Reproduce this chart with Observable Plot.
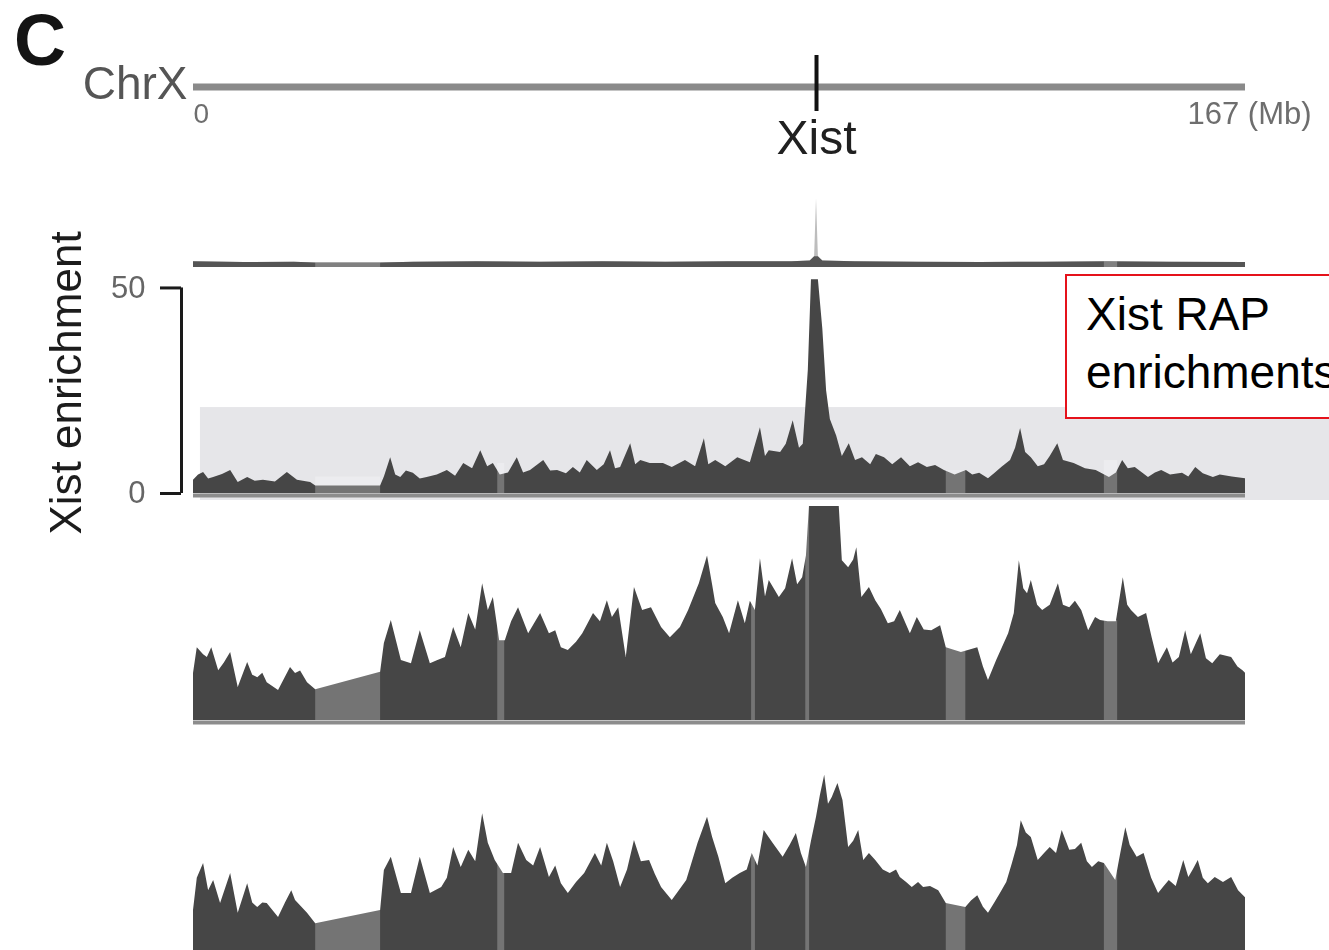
<!DOCTYPE html>
<html>
<head>
<meta charset="utf-8">
<script src="https://cdn.jsdelivr.net/npm/d3@7"></script>
<script src="https://cdn.jsdelivr.net/npm/@observablehq/plot@0.6"></script>
<style>
  html, body { margin: 0; padding: 0; background: #fff; overflow: hidden; }
  #fig { position: relative; width: 1329px; height: 950px; overflow: hidden;
         font-family: "Liberation Sans", Arial, Helvetica, sans-serif; background: #fff; }
  .layer { position: absolute; left: 0; }
  .layer svg { display: block; background: transparent; max-width: none; }
  #panel { position: absolute; left: 14px; top: 4px; font-size: 72px; line-height: 72px;
           font-weight: bold; color: #141414; }
  #ylabel { position: absolute; left: 66px; top: 383px; font-size: 44px; line-height: 44px;
            color: #1c1c1c; white-space: nowrap; transform: translate(-50%, -50%) rotate(-90deg); }
  #note { position: absolute; left: 1065px; top: 274px; width: 400px; height: 132px;
          border: 2px solid #e5121b; background: #fff; box-sizing: content-box;
          padding: 9px 0 0 19px; font-size: 46px; line-height: 58px; color: #000;
          white-space: nowrap; }
</style>
</head>
<body>
<div id="fig"></div>
<script>
// ---------------- data ----------------
const chromosome = [{name: "ChrX", start: 0, end: 167}];
const chromTicks = [{mb: 0, label: "0"}, {mb: 167, label: "167 (Mb)"}];
const genes = [{name: "Xist", mb: 98.9}];
const enrichTicks = [0, 50];
const yLabel = "Xist enrichment";
const noteText = ["Xist RAP", "enrichments"];

// unmappable / low-coverage stretches (Mb)
const gaps = [
  {start: 19.4, end: 29.7},
  {start: 48.3, end: 49.4},
  {start: 119.5, end: 122.6},
  {start: 144.6, end: 146.7}
];
const thinGaps = [
  {start: 88.6, end: 89.2},
  {start: 97.2, end: 97.8}
];
// light grey highlight behind the RAP track
const highlight = [{start: 1.1, end: 181, lo: -1.7, hi: 20.9}];

// overview track (whole chromosome, compressed)
const overview = [[0,1.4],[8,1.2],[16,1.3],[19.4,1.1],[29.7,1.1],[35,1.3],[45,1.4],[55,1.3],[65,1.4],[75,1.3],[85,1.4],[95,1.4],[97.9,1.6],[98.6,2.6],[98.9,16.7],[99.2,2.6],[99.9,1.6],[105,1.4],[115,1.3],[125,1.2],[135,1.3],[145,1.4],[155,1.3],[167,1.2]];

// Xist RAP enrichment (Mb, enrichment)
const rapEnrichment = [[0.0,3.2],[0.8,4.5],[1.6,5.1],[2.4,3.5],[3.2,3.9],[4.6,4.6],[5.9,5.6],[7.1,2.7],[8.6,3.9],[9.8,3.0],[11.1,3.2],[13.0,2.8],[14.9,5.1],[16.5,3.2],[18.6,2.7],[19.4,1.8],[29.7,1.8],[30.3,4.0],[31.3,8.7],[32.1,4.5],[32.9,3.9],[33.8,5.5],[34.9,4.9],[36.0,3.5],[37.1,3.9],[38.7,4.5],[40.3,5.6],[41.6,4.2],[42.9,7.3],[44.3,6.0],[45.6,10.4],[46.7,6.5],[47.6,7.3],[48.7,4.5],[50.0,5.0],[51.4,8.7],[52.4,5.0],[53.5,5.6],[55.6,8.0],[56.7,5.5],[57.8,5.6],[59.2,4.8],[60.3,6.3],[61.4,5.0],[62.5,8.0],[64.1,5.6],[65.2,7.0],[66.2,10.4],[67.0,6.0],[67.8,6.3],[69.4,12.1],[70.2,7.0],[71.0,8.0],[72.5,7.3],[74.6,7.3],[76.0,6.3],[78.1,8.0],[79.7,6.5],[81.1,13.3],[81.8,7.0],[82.9,8.0],[84.5,6.5],[86.4,8.7],[88.4,7.5],[90.0,16.0],[90.8,9.0],[91.4,10.4],[93.2,10.0],[94.1,12.0],[95.2,17.7],[96.2,11.0],[96.8,12.0],[97.6,30.0],[98.1,52.0],[99.2,52.0],[99.9,40.0],[100.5,25.0],[101.1,18.0],[102.1,14.0],[103.0,9.0],[104.1,12.1],[105.1,8.0],[106.2,8.7],[107.5,7.0],[108.4,9.5],[109.7,8.7],[111.0,7.0],[112.4,8.7],[113.8,6.5],[115.1,7.5],[116.5,6.3],[117.8,6.8],[119.2,5.6],[120.9,4.5],[122.7,5.6],[123.7,4.5],[124.8,4.9],[126.2,3.6],[127.3,5.0],[128.3,6.3],[129.7,8.0],[130.5,11.0],[131.3,15.8],[132.1,10.0],[133.0,8.7],[134.1,6.5],[135.1,7.0],[136.0,9.0],[137.2,12.1],[138.1,8.0],[139.8,7.3],[141.6,6.0],[143.3,5.6],[145.4,3.9],[146.5,5.0],[147.5,8.0],[148.4,6.0],[149.5,6.3],[151.6,3.9],[152.7,5.0],[153.7,5.6],[155.1,4.5],[157.0,4.9],[158.0,4.0],[159.1,6.3],[160.3,4.8],[161.9,3.9],[163.0,4.5],[164.9,4.0],[167.0,3.6]];

// second sample (clipped at the top of its track)
const sampleB = [[0.0,11.4],[0.6,17.7],[1.6,16.0],[2.2,15.3],[2.9,17.7],[4.0,12.1],[4.9,14.0],[5.9,16.5],[7.1,8.0],[8.6,14.1],[9.4,11.0],[10.2,10.4],[11.0,11.5],[11.7,9.2],[13.5,7.3],[15.4,12.9],[16.2,11.4],[17.0,12.0],[18.1,9.2],[19.4,7.5],[29.7,11.7],[30.3,18.7],[31.4,24.3],[33.0,14.6],[34.6,13.8],[36.0,21.8],[37.6,13.8],[38.7,14.5],[40.0,15.3],[41.3,22.6],[42.5,17.7],[43.7,26.0],[44.8,22.0],[45.9,33.2],[46.8,26.7],[47.6,29.9],[48.6,19.4],[49.5,19.4],[50.5,24.0],[51.6,27.4],[53.2,21.1],[55.1,26.0],[56.5,21.1],[57.5,21.8],[58.4,17.7],[59.5,17.0],[60.8,19.0],[61.8,21.1],[63.5,26.0],[64.6,24.0],[65.7,29.1],[66.5,25.0],[67.5,27.4],[68.7,15.3],[70.0,32.3],[71.3,26.7],[72.7,27.4],[74.3,22.6],[75.7,20.1],[77.3,22.6],[78.6,26.7],[80.3,33.2],[81.6,40.0],[82.4,33.0],[82.9,28.4],[84.1,25.0],[85.1,21.1],[86.5,29.1],[87.6,23.5],[88.4,29.0],[89.2,26.7],[90.0,39.3],[90.8,30.0],[91.4,34.0],[93.0,29.9],[94.0,32.0],[95.1,39.3],[95.9,33.0],[96.7,34.7],[97.3,40.0],[97.9,55.0],[102.4,55.0],[103.0,38.8],[104.0,37.1],[104.8,39.0],[105.3,42.0],[106.1,29.9],[107.3,32.3],[108.3,29.1],[109.2,27.0],[110.3,23.5],[111.3,24.0],[112.2,26.7],[113.8,21.1],[114.9,25.0],[116.0,22.0],[117.2,21.8],[118.6,23.0],[119.5,17.7],[121.9,16.5],[123.0,17.0],[124.5,17.7],[125.4,13.0],[126.2,9.7],[127.5,14.6],[129.4,21.1],[130.3,26.0],[131.1,38.8],[131.8,32.0],[132.4,30.8],[133.0,34.0],[134.0,28.0],[134.8,26.7],[136.0,28.0],[137.3,33.2],[138.1,28.0],[139.1,27.4],[140.0,29.0],[141.0,26.7],[142.1,21.8],[143.2,25.0],[144.0,24.3],[145.2,24.0],[146.5,24.0],[147.6,34.7],[148.3,28.0],[148.9,26.7],[150.0,25.0],[151.3,26.0],[152.2,20.0],[153.2,13.8],[154.6,17.7],[155.5,14.0],[156.5,15.3],[157.5,21.8],[158.4,16.0],[159.2,18.7],[159.9,21.1],[160.8,15.0],[161.8,13.8],[163.0,16.0],[164.8,15.3],[165.8,13.0],[166.6,12.1],[167.0,11.5]];

// third sample
const sampleC = [[0.0,10.2],[0.6,18.0],[1.6,21.6],[2.4,15.0],[3.2,17.5],[4.3,11.9],[5.9,19.2],[7.1,9.5],[8.6,16.7],[9.4,12.0],[10.2,10.9],[11.0,12.0],[11.7,11.9],[13.5,8.5],[14.6,12.0],[15.6,15.0],[16.2,12.6],[18.1,9.5],[19.4,7.0],[29.7,10.2],[30.3,19.9],[31.4,23.1],[33.0,14.3],[34.6,14.3],[36.0,23.1],[37.6,14.3],[39.4,15.8],[40.3,18.0],[41.3,25.5],[42.5,20.6],[43.7,24.8],[44.8,22.0],[45.9,33.7],[46.8,26.5],[47.9,22.3],[49.2,19.2],[50.5,19.2],[51.6,26.5],[52.9,22.3],[54.0,21.0],[55.1,25.5],[56.5,18.2],[57.5,21.0],[58.4,16.7],[59.5,14.3],[60.8,17.0],[62.1,19.2],[63.8,24.0],[64.8,21.0],[65.7,26.5],[66.7,22.0],[67.8,15.8],[68.9,20.0],[70.0,27.2],[71.1,22.0],[72.4,22.3],[73.3,19.0],[74.3,15.8],[76.0,12.6],[78.3,17.5],[80.1,26.5],[81.6,32.8],[82.4,28.0],[83.4,23.1],[84.5,16.7],[85.6,18.0],[86.8,19.2],[87.9,20.0],[88.7,24.0],[89.6,21.0],[90.6,29.6],[92.0,26.5],[93.6,23.1],[94.7,26.0],[95.7,28.9],[96.5,24.0],[97.3,20.6],[98.1,27.0],[98.9,32.8],[99.5,38.0],[100.2,43.0],[100.8,36.0],[101.4,37.6],[102.3,41.0],[103.1,36.9],[104.0,25.5],[104.8,27.0],[105.6,29.6],[106.4,22.3],[107.3,24.0],[108.3,22.3],[109.5,20.0],[110.6,19.2],[111.6,20.0],[112.2,18.2],[113.2,17.0],[114.1,15.8],[115.1,17.0],[115.9,15.8],[117.0,16.0],[118.3,15.0],[119.5,11.9],[122.6,10.9],[123.5,12.5],[124.5,13.8],[125.4,11.0],[126.2,9.5],[127.2,12.0],[128.1,14.3],[129.1,17.0],[130.0,21.6],[130.8,26.0],[131.4,32.0],[132.2,29.0],[133.0,27.9],[134.1,22.3],[135.1,24.0],[136.0,25.5],[137.0,24.0],[137.9,29.6],[139.1,24.8],[140.0,25.0],[141.0,26.5],[141.9,22.0],[142.7,20.6],[143.7,22.0],[144.6,21.6],[146.4,17.5],[147.2,24.0],[148.0,30.3],[148.7,26.0],[149.8,23.1],[150.9,24.0],[152.1,18.0],[153.2,14.3],[154.1,16.0],[154.9,17.5],[156.0,16.0],[157.2,22.3],[158.0,18.2],[158.7,20.0],[159.5,22.3],[160.3,18.0],[161.1,16.7],[162.2,18.2],[163.5,17.0],[164.8,18.2],[165.9,15.0],[167.0,13.3]];

// ---------------- drawing ----------------
const FONT = '"Liberation Sans", Arial, Helvetica, sans-serif';
const W = 1329, ML = 193, MR = 84;
const AREA = "#464646";
const fig = document.getElementById("fig");

function addLayer(top, node) {
  const d = document.createElement("div");
  d.className = "layer";
  d.style.top = top + "px";
  d.appendChild(node);
  fig.appendChild(d);
}

function gapMarks(points, list) {
  return Plot.rect(list, {
    x1: "start", x2: "end",
    y1: () => 0,
    y2: g => d3.max(points.filter(p => p[0] >= g.start - 0.8 && p[0] <= g.end + 0.8), p => p[1]) ?? 0,
    fill: "#404040", mixBlendMode: "screen"
  });
}

function track(height, marginTop, marginBottom, yDomain, marks) {
  return Plot.plot({
    width: W, height, marginLeft: ML, marginRight: MR, marginTop, marginBottom,
    x: {domain: [0, 167], axis: null},
    y: {domain: yDomain, axis: null},
    style: {background: "transparent", fontFamily: FONT, overflow: "hidden"},
    marks
  });
}

function baseStrip() {
  return Plot.ruleY(chromosome, {x1: "start", x2: "end", y: () => 0, dy: 2, stroke: "#8c8c8c", strokeWidth: 4});
}

// ideogram
addLayer(0, Plot.plot({
  width: W, height: 170, marginLeft: ML, marginRight: MR, marginTop: 86, marginBottom: 83,
  x: {domain: [0, 167], axis: null},
  y: {domain: [0, 1], axis: null},
  style: {background: "transparent", fontFamily: FONT},
  marks: [
    Plot.ruleY(chromosome, {x1: "start", x2: "end", y: () => 0.5, stroke: "#8a8a8a", strokeWidth: 7}),
    Plot.ruleX(genes, {x: "mb", stroke: "#111", strokeWidth: 4, insetTop: -31, insetBottom: -24}),
    Plot.text(genes, {x: "mb", text: "name", frameAnchor: "bottom", lineAnchor: "bottom", dy: 66, fontSize: 48, fill: "#202020"}),
    Plot.text(chromosome, {x: "start", text: "name", frameAnchor: "bottom", textAnchor: "end", lineAnchor: "bottom", dx: -6, dy: 11, fontSize: 46, fill: "#555"}),
    Plot.text(chromTicks.slice(0, 1), {x: "mb", text: "label", frameAnchor: "bottom", textAnchor: "start", lineAnchor: "top", dy: 16, fontSize: 28, fill: "#6e6e6e"}),
    Plot.text(chromTicks.slice(1), {x: "mb", text: "label", frameAnchor: "bottom", textAnchor: "start", lineAnchor: "top", dx: -58, dy: 14, fontSize: 31, fill: "#6e6e6e"})
  ]
}));

// overview line
addLayer(185, track(85, 0, 3, [0, 19.9], [
  Plot.areaY(overview, {x: d => d[0], y: d => d[1], fill: "#bdbdbd"}),
  Plot.areaY(overview, {x: d => d[0], y: d => Math.min(d[1], 2.6), fill: "#555"}),
  gapMarks(overview, gaps)
]));

// Xist RAP enrichment track with axis
addLayer(271, track(240, 0, 18, [0, 54], [
  Plot.rect(highlight, {x1: "start", x2: "end", y1: "lo", y2: "hi", fill: "#e6e6e9"}),
  Plot.areaY(rapEnrichment, {x: d => d[0], y: d => d[1], fill: AREA}),
  baseStrip(),
  gapMarks(rapEnrichment, gaps),
  Plot.ruleX([enrichTicks], {x: () => 0, y1: d => d3.min(d), y2: d => d3.max(d), dx: -12, stroke: "#1a1a1a", strokeWidth: 3}),
  Plot.axisY({ticks: enrichTicks, tickSize: 21, tickPadding: 15, dx: -12, fontSize: 31,
              stroke: "#1a1a1a", strokeWidth: 3, fill: "#666", label: null})
]));

// second sample
addLayer(506, track(220, 0, 6, [0, 52], [
  Plot.areaY(sampleB, {x: d => d[0], y: d => d[1], fill: AREA, clip: true}),
  baseStrip(),
  gapMarks(sampleB, gaps.concat(thinGaps))
]));

// third sample
addLayer(760, track(200, 0, 8, [0, 46.6], [
  Plot.areaY(sampleC, {x: d => d[0], y: d => d[1], fill: AREA}),
  gapMarks(sampleC, gaps.concat(thinGaps))
]));

// html text
const panel = document.createElement("div");
panel.id = "panel"; panel.textContent = "C"; fig.appendChild(panel);
const yl = document.createElement("div");
yl.id = "ylabel"; yl.textContent = yLabel; fig.appendChild(yl);
const note = document.createElement("div");
note.id = "note"; note.innerHTML = noteText.join("<br>"); fig.appendChild(note);
</script>
</body>
</html>
